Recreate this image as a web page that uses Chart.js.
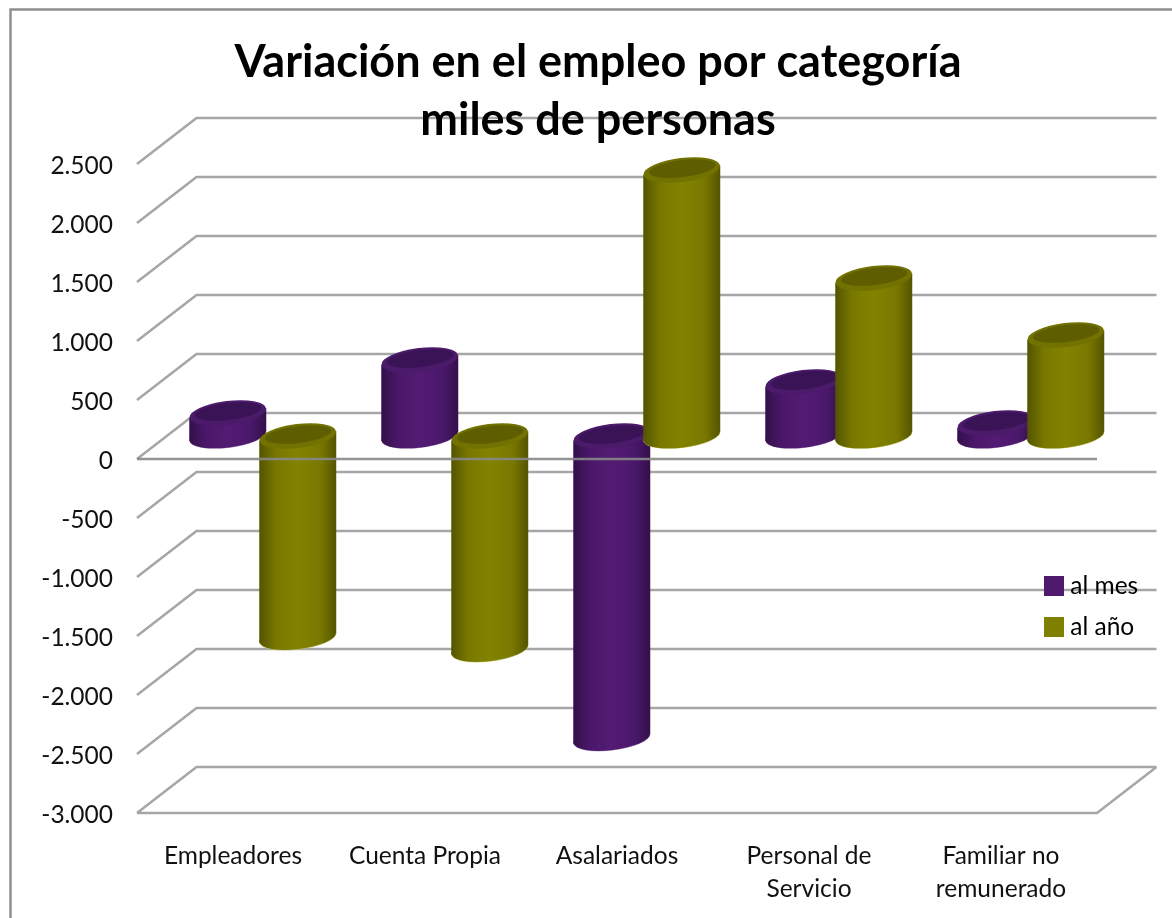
<!DOCTYPE html>
<html lang="es">
<head>
<meta charset="utf-8">
<title>Variación en el empleo por categoría</title>
<script src="https://cdn.jsdelivr.net/npm/chart.js@4"></script>
<style>
html,body{margin:0;padding:0;background:#fff;overflow:hidden}
canvas{display:block;filter:blur(0.6px)}
</style>
</head>
<body>
<canvas id="c" width="1172" height="918"></canvas>
<script>
const categories = ['Empleadores', 'Cuenta Propia', 'Asalariados', ['Personal de', 'Servicio'], ['Familiar no', 'remunerado']];
const alMes = [195, 644, -2564, 458, 110];
const alAno = [-1708, -1810, 2254, 1339, 856];
const seriesNames = ['al mes', 'al año'];
const seriesColors = ['#4f1a6e', '#7f7f00'];
const titleLines = ['Variación en el empleo por categoría', 'miles de personas'];

const DEPTH_X = 59.5, DEPTH_Y = -46;
const TILT = -7 * Math.PI / 180, RY = 11.5;
const SHADES = {
  '#4f1a6e': {edge: '#340f4b', soft: '#4a186a', mid: '#541b74', rim: '#4b1a6a', cap: '#3a1356', halo: '#b9a3c8'},
  '#7f7f00': {edge: '#545400', soft: '#787800', mid: '#838300', rim: '#727200', cap: '#5e5e00', halo: '#c4c46a'}
};

// Bars stay library elements: painting is queued so the pairs overlap left to right.
const paintQueue = [];
function paintCylinder(ctx, el) {
  const {x, y, base, width} = el.getProps(['x', 'y', 'base', 'width']);
  const s = SHADES[el.options.backgroundColor];
  const cx = x + DEPTH_X / 2, top = Math.min(y, base) + DEPTH_Y / 2, bot = Math.max(y, base) + DEPTH_Y / 2;
  const rx = width / 2, l = cx - rx, r = cx + rx, sh = Math.tan(-TILT) * rx;
  const g = ctx.createLinearGradient(l, 0, r, 0);
  g.addColorStop(0, s.edge); g.addColorStop(0.22, s.soft); g.addColorStop(0.5, s.mid);
  g.addColorStop(0.8, s.soft); g.addColorStop(1, s.edge);
  ctx.save();
  ctx.beginPath();
  ctx.ellipse(cx, bot, rx, RY, TILT, 0, Math.PI * 2);
  ctx.fillStyle = g; ctx.strokeStyle = s.halo; ctx.lineWidth = 1;
  ctx.stroke(); ctx.fill();
  ctx.beginPath();
  ctx.moveTo(l, top + sh); ctx.lineTo(r, top - sh); ctx.lineTo(r, bot - sh); ctx.lineTo(l, bot + sh); ctx.closePath();
  ctx.fill();
  ctx.beginPath();
  ctx.ellipse(cx, top, rx, RY + 0.5, TILT, 0, Math.PI * 2);
  ctx.fillStyle = s.rim; ctx.fill();
  ctx.beginPath();
  ctx.ellipse(cx + 0.5, top - 1.5, rx - 5, RY - 3, TILT, 0, Math.PI * 2);
  ctx.fillStyle = s.cap; ctx.fill();
  ctx.restore();
}
Chart.BarElement.prototype.draw = function () { paintQueue.push(this); };

const wall3d = {
  id: 'wall3d',
  afterLayout(chart) {
    const t = chart.titleBlock; t.left += 49.5; t.right += 49.5;
    const lg = chart.legend, p = lg.options.labels.padding;
    const w = lg.width, h = lg.height;
    lg.left = 1050 - p; lg.top = 573.75 - p; lg.right = lg.left + w; lg.bottom = lg.top + h;
  },
  beforeDraw(chart) {
    const {ctx, chartArea: a, scales: {y}} = chart;
    ctx.save();
    ctx.fillStyle = '#fff'; ctx.fillRect(0, 0, chart.width, chart.height);
    ctx.strokeStyle = '#8f8f8f'; ctx.lineWidth = 2.5;
    ctx.beginPath(); ctx.moveTo(10.5, 918); ctx.lineTo(10.5, 9.5); ctx.lineTo(1172, 9.5); ctx.stroke();
    ctx.strokeStyle = '#a6a6a6'; ctx.lineWidth = 2.5;
    ctx.beginPath();
    y.ticks.forEach(t => {
      const py = y.getPixelForValue(t.value);
      ctx.moveTo(a.left, py); ctx.lineTo(a.left + DEPTH_X, py + DEPTH_Y); ctx.lineTo(a.right + DEPTH_X, py + DEPTH_Y);
    });
    ctx.moveTo(a.left, a.bottom); ctx.lineTo(a.right, a.bottom); ctx.lineTo(a.right + DEPTH_X, a.bottom + DEPTH_Y);
    ctx.stroke();
    ctx.restore();
  },
  afterDatasetsDraw(chart) {
    const {ctx, chartArea: a, scales: {y}} = chart, py = y.getPixelForValue(0);
    paintQueue.sort((p, q) => p.x - q.x).forEach(el => paintCylinder(ctx, el));
    paintQueue.length = 0;
    ctx.save();
    ctx.strokeStyle = 'rgba(135,135,135,0.9)'; ctx.lineWidth = 2.5;
    ctx.beginPath(); ctx.moveTo(a.left, py); ctx.lineTo(a.right, py); ctx.stroke();
    ctx.restore();
  }
};

const fmt = v => String(v).replace(/\B(?=(\d{3})+(?!\d))/g, '.');

new Chart(document.getElementById('c'), {
  type: 'bar',
  plugins: [wall3d],
  data: {
    labels: categories,
    datasets: [
      {label: seriesNames[0], data: alMes, backgroundColor: seriesColors[0], clip: false},
      {label: seriesNames[1], data: alAno, backgroundColor: seriesColors[1], clip: false}
    ]
  },
  options: {
    responsive: false,
    animation: false,
    events: [],
    categoryPercentage: 0.729,
    barPercentage: 1.1,
    layout: {padding: {top: 33, left: 0, right: 75, bottom: 0}},
    plugins: {
      tooltip: {enabled: false},
      title: {
        display: true, text: titleLines, color: '#000',
        font: {family: 'Lato', size: 45, weight: 'bold', lineHeight: 58 / 45},
        padding: {top: 0, bottom: 15}
      },
      legend: {
        position: 'chartArea', align: 'start',
        labels: {
          font: {family: 'Lato', size: 24.5}, color: '#111', padding: 16.5, boxWidth: 8, boxHeight: 8,
          generateLabels: () => seriesNames.map((n, i) => ({
            text: n, fillStyle: seriesColors[i], strokeStyle: seriesColors[i], lineWidth: 12, datasetIndex: i, hidden: false
          }))
        }
      }
    },
    scales: {
      x: {
        grid: {display: false}, border: {display: false},
        afterFit: s => { s.height = 105; },
        ticks: {font: {family: 'Lato', size: 24.5, lineHeight: 33 / 24.5}, color: '#111', padding: 19, autoSkip: false, maxRotation: 0, minRotation: 0}
      },
      y: {
        min: -3000, max: 2500,
        grid: {display: false}, border: {display: false},
        afterFit: s => { s.width = 137; },
        ticks: {stepSize: 500, font: {family: 'Lato', size: 24.5}, color: '#111', padding: 16, labelOffset: 2, callback: v => fmt(v)}
      }
    }
  }
});
</script>
</body>
</html>
